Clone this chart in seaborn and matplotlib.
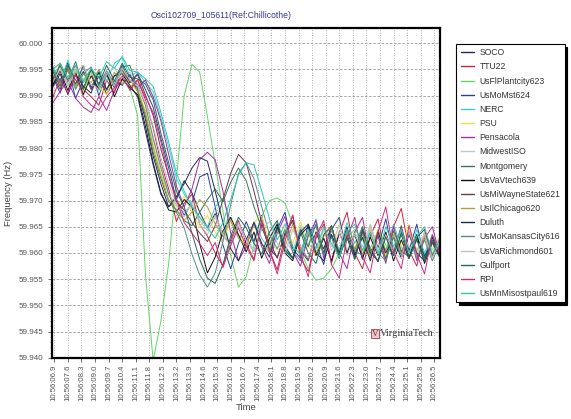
import numpy as np
import pandas as pd
import matplotlib
matplotlib.use("Agg")
import matplotlib.pyplot as plt
import seaborn as sns
from matplotlib.ticker import MultipleLocator, FixedLocator, FormatStrFormatter

sns.set_style("white")
plt.rcParams["font.family"] = ["Liberation Sans", "DejaVu Sans"]

# ---------------- data ----------------
times = [6.8, 7.2, 7.6, 8.0, 8.4, 8.8, 9.2, 9.6, 10.0, 10.4,
         10.8, 11.2, 11.6, 12.0, 12.4, 12.8, 13.2, 13.6, 14.0, 14.4,
         14.8, 15.2, 15.6, 16.0, 16.4, 16.8, 17.2, 17.6, 18.0, 18.4,
         18.8, 19.2, 19.6, 20.0, 20.4, 20.8, 21.2, 21.6, 22.0, 22.4,
         22.8, 23.2, 23.6, 24.0, 24.4, 24.8, 25.2, 25.6, 26.0, 26.4, 26.8]

tick_seconds = [6.9, 7.6, 8.3, 9.0, 9.7, 10.4, 11.1, 11.8, 12.5, 13.2,
                13.9, 14.6, 15.3, 16.0, 16.7, 17.4, 18.1, 18.8, 19.5, 20.2,
                20.9, 21.6, 22.3, 23.0, 23.7, 24.4, 25.1, 25.8, 26.5]
tick_labels = ["10:56:06.9", "10:56:07.6", "10:56:08.3", "10:56:09.0", "10:56:09.7",
               "10:56:10.4", "10:56:11.1", "10:56:11.8", "10:56:12.5", "10:56:13.2",
               "10:56:13.9", "10:56:14.6", "10:56:15.3", "10:56:16.0", "10:56:16.7",
               "10:56:17.4", "10:56:18.1", "10:56:18.8", "10:56:19.5", "10:56:20.2",
               "10:56:20.9", "10:56:21.6", "10:56:22.3", "10:56:23.0", "10:56:23.7",
               "10:56:24.4", "10:56:25.1", "10:56:25.8", "10:56:26.5"]

SOCO = [59.9954, 59.9929, 59.9963, 59.9920, 59.9946, 59.9912, 59.9937, 59.9903, 59.9929, 59.9920,
        59.9940, 59.9908, 59.9855, 59.9785, 59.9732, 59.9688, 59.9702, 59.9738, 59.9715, 59.9678,
        59.9648, 59.9675, 59.9632, 59.9618, 59.9658, 59.9628, 59.9603, 59.9648, 59.9622, 59.9590,
        59.9638, 59.9662, 59.9612, 59.9588, 59.9640, 59.9608, 59.9652, 59.9598, 59.9630, 59.9588,
        59.9642, 59.9610, 59.9583, 59.9635, 59.9600, 59.9645, 59.9590, 59.9628, 59.9595, 59.9622, 59.9592]
TTU22 = [59.9918, 59.9962, 59.9925, 59.9958, 59.9912, 59.9898, 59.9882, 59.9930, 59.9905, 59.9952,
         59.9915, 59.9930, 59.9892, 59.9838, 59.9772, 59.9722, 59.9660, 59.9695, 59.9712, 59.9655,
         59.9632, 59.9600, 59.9575, 59.9625, 59.9662, 59.9618, 59.9588, 59.9655, 59.9605, 59.9568,
         59.9632, 59.9672, 59.9590, 59.9565, 59.9628, 59.9655, 59.9580, 59.9638, 59.9678, 59.9600,
         59.9570, 59.9632, 59.9665, 59.9588, 59.9650, 59.9685, 59.9605, 59.9575, 59.9640, 59.9592, 59.9628]
UsFlPlantcity623 = [59.9942, 59.9955, 59.9918, 59.9950, 59.9925, 59.9945, 59.9910, 59.9938, 59.9920, 59.9948,
                    59.9915, 59.9862, 59.9560, 59.9395, 59.9470, 59.9580, 59.9740, 59.9900, 59.9960, 59.9945,
                    59.9860, 59.9770, 59.9680, 59.9595, 59.9535, 59.9555, 59.9615, 59.9670, 59.9700, 59.9705,
                    59.9695, 59.9655, 59.9605, 59.9570, 59.9548, 59.9552, 59.9570, 59.9600, 59.9628, 59.9645,
                    59.9625, 59.9608, 59.9642, 59.9615, 59.9600, 59.9638, 59.9610, 59.9630, 59.9598, 59.9625, 59.9605]
UsMoMst624 = [59.9938, 59.9905, 59.9955, 59.9895, 59.9930, 59.9948, 59.9900, 59.9940, 59.9915, 59.9958,
              59.9925, 59.9942, 59.9912, 59.9878, 59.9818, 59.9762, 59.9702, 59.9672, 59.9695, 59.9745,
              59.9752, 59.9688, 59.9615, 59.9570, 59.9618, 59.9660, 59.9622, 59.9672, 59.9600, 59.9645,
              59.9678, 59.9608, 59.9590, 59.9655, 59.9618, 59.9578, 59.9645, 59.9668, 59.9598, 59.9640,
              59.9588, 59.9652, 59.9610, 59.9665, 59.9595, 59.9640, 59.9605, 59.9655, 59.9590, 59.9632, 59.9600]
NERC = [59.9958, 59.9925, 59.9968, 59.9920, 59.9955, 59.9915, 59.9950, 59.9928, 59.9962, 59.9972,
        59.9938, 59.9945, 59.9925, 59.9908, 59.9858, 59.9802, 59.9742, 59.9712, 59.9692, 59.9668,
        59.9650, 59.9688, 59.9705, 59.9660, 59.9632, 59.9612, 59.9660, 59.9628, 59.9605, 59.9655,
        59.9615, 59.9590, 59.9652, 59.9612, 59.9665, 59.9598, 59.9645, 59.9605, 59.9658, 59.9618,
        59.9650, 59.9595, 59.9638, 59.9605, 59.9655, 59.9612, 59.9590, 59.9645, 59.9600, 59.9635, 59.9608]
PSU = [59.9942, 59.9915, 59.9950, 59.9925, 59.9908, 59.9945, 59.9918, 59.9902, 59.9938, 59.9952,
       59.9918, 59.9912, 59.9872, 59.9808, 59.9752, 59.9712, 59.9688, 59.9708, 59.9678, 59.9648,
       59.9672, 59.9640, 59.9622, 59.9662, 59.9635, 59.9612, 59.9658, 59.9670, 59.9622, 59.9605,
       59.9648, 59.9618, 59.9660, 59.9612, 59.9595, 59.9645, 59.9612, 59.9655, 59.9605, 59.9640,
       59.9600, 59.9650, 59.9618, 59.9595, 59.9645, 59.9612, 59.9655, 59.9600, 59.9640, 59.9608, 59.9632]
Pensacola = [59.9885, 59.9908, 59.9928, 59.9895, 59.9878, 59.9868, 59.9898, 59.9872, 59.9910, 59.9932,
             59.9940, 59.9915, 59.9930, 59.9898, 59.9852, 59.9788, 59.9728, 59.9688, 59.9722, 59.9778,
             59.9792, 59.9778, 59.9718, 59.9638, 59.9585, 59.9612, 59.9658, 59.9612, 59.9580, 59.9638,
             59.9670, 59.9602, 59.9575, 59.9632, 59.9662, 59.9590, 59.9650, 59.9600, 59.9570, 59.9640,
             59.9668, 59.9590, 59.9632, 59.9580, 59.9650, 59.9600, 59.9640, 59.9585, 59.9628, 59.9650, 59.9595]
MidwestISO = [59.9948, 59.9962, 59.9922, 59.9955, 59.9930, 59.9948, 59.9915, 59.9940, 59.9955, 59.9925,
              59.9945, 59.9918, 59.9882, 59.9822, 59.9768, 59.9712, 59.9692, 59.9668, 59.9698, 59.9655,
              59.9635, 59.9672, 59.9640, 59.9615, 59.9658, 59.9625, 59.9605, 59.9650, 59.9618, 59.9660,
              59.9622, 59.9605, 59.9650, 59.9618, 59.9600, 59.9645, 59.9612, 59.9652, 59.9605, 59.9638,
              59.9612, 59.9655, 59.9605, 59.9640, 59.9600, 59.9645, 59.9612, 59.9595, 59.9640, 59.9605, 59.9628]
Montgomery = [59.9925, 59.9958, 59.9930, 59.9965, 59.9915, 59.9952, 59.9922, 59.9945, 59.9918, 59.9955,
              59.9958, 59.9912, 59.9862, 59.9792, 59.9742, 59.9698, 59.9682, 59.9662, 59.9652, 59.9678,
              59.9702, 59.9722, 59.9698, 59.9735, 59.9762, 59.9738, 59.9688, 59.9648, 59.9615, 59.9648,
              59.9605, 59.9590, 59.9645, 59.9612, 59.9655, 59.9598, 59.9635, 59.9590, 59.9640, 59.9605,
              59.9650, 59.9598, 59.9635, 59.9588, 59.9642, 59.9605, 59.9592, 59.9635, 59.9590, 59.9625, 59.9595]
UsVaVtech639 = [59.9918, 59.9948, 59.9910, 59.9945, 59.9902, 59.9938, 59.9912, 59.9945, 59.9898, 59.9932,
                59.9915, 59.9902, 59.9842, 59.9772, 59.9715, 59.9682, 59.9678, 59.9702, 59.9688, 59.9618,
                59.9562, 59.9592, 59.9642, 59.9668, 59.9635, 59.9602, 59.9640, 59.9590, 59.9628, 59.9655,
                59.9600, 59.9585, 59.9635, 59.9650, 59.9595, 59.9628, 59.9585, 59.9640, 59.9600, 59.9635,
                59.9590, 59.9630, 59.9595, 59.9640, 59.9585, 59.9625, 59.9590, 59.9635, 59.9580, 59.9620, 59.9592]
UsMiWayneState621 = [59.9940, 59.9912, 59.9952, 59.9922, 59.9958, 59.9915, 59.9945, 59.9910, 59.9938, 59.9950,
                     59.9925, 59.9940, 59.9902, 59.9862, 59.9798, 59.9748, 59.9698, 59.9682, 59.9658, 59.9638,
                     59.9622, 59.9652, 59.9702, 59.9752, 59.9788, 59.9772, 59.9718, 59.9658, 59.9608, 59.9592,
                     59.9635, 59.9662, 59.9605, 59.9585, 59.9640, 59.9600, 59.9652, 59.9590, 59.9635, 59.9595,
                     59.9645, 59.9605, 59.9585, 59.9635, 59.9600, 59.9652, 59.9590, 59.9630, 59.9645, 59.9595, 59.9625]
UsIlChicago620 = [59.9948, 59.9922, 59.9955, 59.9915, 59.9942, 59.9925, 59.9950, 59.9910, 59.9945, 59.9922,
                  59.9930, 59.9908, 59.9868, 59.9802, 59.9748, 59.9702, 59.9682, 59.9662, 59.9678, 59.9702,
                  59.9688, 59.9655, 59.9635, 59.9662, 59.9628, 59.9612, 59.9655, 59.9618, 59.9602, 59.9645,
                  59.9612, 59.9655, 59.9605, 59.9640, 59.9598, 59.9632, 59.9650, 59.9600, 59.9640, 59.9608,
                  59.9635, 59.9592, 59.9645, 59.9605, 59.9635, 59.9598, 59.9640, 59.9605, 59.9632, 59.9592, 59.9622]
Duluth = [59.9915, 59.9942, 59.9902, 59.9940, 59.9918, 59.9905, 59.9945, 59.9912, 59.9938, 59.9942,
          59.9920, 59.9898, 59.9832, 59.9768, 59.9712, 59.9688, 59.9708, 59.9732, 59.9762, 59.9782,
          59.9775, 59.9718, 59.9658, 59.9608, 59.9585, 59.9625, 59.9658, 59.9618, 59.9592, 59.9650,
          59.9612, 59.9590, 59.9640, 59.9655, 59.9600, 59.9585, 59.9635, 59.9600, 59.9650, 59.9595,
          59.9630, 59.9585, 59.9640, 59.9600, 59.9630, 59.9590, 59.9635, 59.9600, 59.9585, 59.9630, 59.9595]
UsMoKansasCity616 = [59.9952, 59.9925, 59.9948, 59.9912, 59.9942, 59.9955, 59.9918, 59.9948, 59.9922, 59.9955,
                     59.9930, 59.9922, 59.9882, 59.9818, 59.9762, 59.9712, 59.9678, 59.9648, 59.9598, 59.9558,
                     59.9535, 59.9562, 59.9622, 59.9692, 59.9752, 59.9772, 59.9742, 59.9688, 59.9635, 59.9608,
                     59.9645, 59.9602, 59.9585, 59.9635, 59.9652, 59.9595, 59.9630, 59.9590, 59.9645, 59.9605,
                     59.9595, 59.9640, 59.9600, 59.9585, 59.9630, 59.9595, 59.9640, 59.9590, 59.9625, 59.9585, 59.9618]
UsVaRichmond601 = [59.9925, 59.9950, 59.9918, 59.9945, 59.9958, 59.9922, 59.9912, 59.9945, 59.9918, 59.9952,
                   59.9930, 59.9918, 59.9888, 59.9842, 59.9782, 59.9732, 59.9692, 59.9678, 59.9692, 59.9662,
                   59.9642, 59.9668, 59.9635, 59.9612, 59.9652, 59.9625, 59.9602, 59.9645, 59.9660, 59.9618,
                   59.9600, 59.9645, 59.9612, 59.9590, 59.9635, 59.9650, 59.9605, 59.9640, 59.9595, 59.9635,
                   59.9605, 59.9645, 59.9598, 59.9635, 59.9600, 59.9590, 59.9640, 59.9605, 59.9635, 59.9590, 59.9625]
Gulfport = [59.9948, 59.9918, 59.9958, 59.9930, 59.9912, 59.9950, 59.9922, 59.9958, 59.9928, 59.9962,
            59.9935, 59.9932, 59.9922, 59.9892, 59.9828, 59.9772, 59.9718, 59.9688, 59.9638, 59.9588,
            59.9552, 59.9542, 59.9578, 59.9632, 59.9668, 59.9648, 59.9618, 59.9598, 59.9640, 59.9662,
            59.9605, 59.9590, 59.9640, 59.9600, 59.9580, 59.9635, 59.9652, 59.9595, 59.9630, 59.9590,
            59.9640, 59.9600, 59.9585, 59.9630, 59.9595, 59.9635, 59.9590, 59.9625, 59.9585, 59.9620, 59.9590]
RPI = [59.9895, 59.9932, 59.9905, 59.9940, 59.9898, 59.9882, 59.9872, 59.9898, 59.9915, 59.9938,
       59.9910, 59.9930, 59.9898, 59.9868, 59.9812, 59.9748, 59.9702, 59.9658, 59.9638, 59.9618,
       59.9595, 59.9620, 59.9572, 59.9615, 59.9648, 59.9612, 59.9585, 59.9662, 59.9605, 59.9560,
       59.9622, 59.9672, 59.9598, 59.9555, 59.9632, 59.9662, 59.9578, 59.9552, 59.9628, 59.9668,
       59.9592, 59.9562, 59.9640, 59.9688, 59.9602, 59.9570, 59.9652, 59.9598, 59.9560, 59.9635, 59.9595]
UsMnMisostpaul619 = [59.9950, 59.9962, 59.9935, 59.9958, 59.9928, 59.9952, 59.9935, 59.9965, 59.9952, 59.9975,
                     59.9948, 59.9945, 59.9932, 59.9918, 59.9868, 59.9812, 59.9752, 59.9718, 59.9688, 59.9668,
                     59.9648, 59.9628, 59.9658, 59.9702, 59.9748, 59.9772, 59.9768, 59.9718, 59.9665, 59.9625,
                     59.9655, 59.9612, 59.9598, 59.9645, 59.9608, 59.9650, 59.9618, 59.9592, 59.9640, 59.9655,
                     59.9605, 59.9640, 59.9598, 59.9650, 59.9612, 59.9645, 59.9600, 59.9632, 59.9650, 59.9598, 59.9628]

stations = ["SOCO", "TTU22", "UsFlPlantcity623", "UsMoMst624", "NERC", "PSU",
            "Pensacola", "MidwestISO", "Montgomery", "UsVaVtech639",
            "UsMiWayneState621", "UsIlChicago620", "Duluth", "UsMoKansasCity616",
            "UsVaRichmond601", "Gulfport", "RPI", "UsMnMisostpaul619"]
series_values = [SOCO, TTU22, UsFlPlantcity623, UsMoMst624, NERC, PSU,
                 Pensacola, MidwestISO, Montgomery, UsVaVtech639,
                 UsMiWayneState621, UsIlChicago620, Duluth, UsMoKansasCity616,
                 UsVaRichmond601, Gulfport, RPI, UsMnMisostpaul619]
colors = ["#26284e", "#d0203c", "#62d862", "#2b3f9a", "#38cfd2", "#ece040",
          "#a82aa8", "#b8cad6", "#3a7456", "#111111",
          "#6a3a48", "#aea032", "#1e2a5a", "#5a8a8c",
          "#c8bcc4", "#1f6a5a", "#d0287a", "#2cc8a8"]

df = pd.concat([pd.DataFrame({"Time": times, "Frequency": v, "Station": s})
                for s, v in zip(stations, series_values)], ignore_index=True)
palette = dict(zip(stations, colors))

# ---------------- figure ----------------
fig = plt.figure(figsize=(5.71, 4.19), dpi=100)
fig.patch.set_facecolor("white")
ax = fig.add_axes([0.091, 0.146, 0.680, 0.787])

sns.lineplot(data=df, x="Time", y="Frequency", hue="Station", hue_order=stations,
             palette=palette, linewidth=0.7, estimator=None, sort=False, ax=ax)

ax.set_xlim(6.78, 26.81)
ax.set_ylim(59.940, 60.0029)

ax.xaxis.set_major_locator(FixedLocator(tick_seconds))
ax.set_xticklabels(tick_labels, rotation=90, fontsize=5.6, color="#555555")
ax.yaxis.set_major_locator(MultipleLocator(0.005))
ax.yaxis.set_minor_locator(MultipleLocator(0.001))
ax.yaxis.set_major_formatter(FormatStrFormatter("%.3f"))
ax.tick_params(axis="y", labelsize=5.8, labelcolor="#555555", length=3, width=0.6,
               color="#555555", direction="out", left=True)
ax.tick_params(axis="y", which="minor", length=1.5, width=0.5, color="#777777", left=True)
ax.tick_params(axis="x", length=3, width=0.6, color="#555555", direction="out", bottom=True, pad=2)

ax.grid(axis="y", which="major", linestyle=(0, (3, 2)), color="#9a9a9a", linewidth=0.6)
ax.grid(axis="x", which="major", linestyle=(0, (1, 2)), color="#9a9a9a", linewidth=0.6)
ax.set_axisbelow(True)

for sp in ax.spines.values():
    sp.set_color("black")
    sp.set_linewidth(1.6)

ax.set_xlabel("Time", fontsize=6.8, color="#444444", labelpad=1)
ax.set_ylabel("Frequency (Hz)", fontsize=6.8, color="#444444", labelpad=4)

fig.text(0.388, 0.962, "Osci102709_105611(Ref:Chillicothe)", fontsize=6.2,
         color="#3a3a9a", ha="center", va="center")

ax.text(0.845, 0.073, "VirginiaTech", transform=ax.transAxes, fontsize=7.5,
        family="Liberation Serif", color="#3a3a3a", ha="left", va="center")
ax.text(0.832, 0.073, "V", transform=ax.transAxes, fontsize=6.5,
        family="Liberation Serif", color="#8a2030", ha="center", va="center",
        bbox=dict(boxstyle="square,pad=0.05", fc="#e8c8cc", ec="#8a2030", lw=0.5))

handles, labels = ax.get_legend_handles_labels()
ax.get_legend().remove()
leg = fig.legend(handles, labels, loc="upper left", bbox_to_anchor=(0.799, 0.895),
                 fontsize=6.2, frameon=True, fancybox=False, edgecolor="black",
                 labelspacing=0.6, handlelength=1.6, handletextpad=0.6,
                 borderpad=0.5, borderaxespad=0.0,
                 shadow={"color": "black", "alpha": 1.0, "ox": 2, "oy": -2})
leg.get_frame().set_linewidth(0.8)
for t in leg.get_texts():
    t.set_color("#333333")
for h in leg.get_lines():
    h.set_linewidth(1.0)

fig.savefig("out.png", dpi=100, facecolor="white")
